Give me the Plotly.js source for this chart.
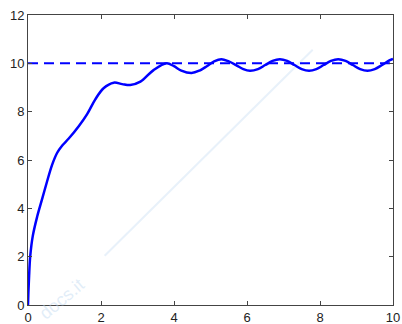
<!DOCTYPE html>
<html><head><meta charset="utf-8">
<script src="https://cdn.plot.ly/plotly-3.0.1.min.js"></script>
<style>html,body{margin:0;padding:0;background:#fff;}#chart{width:402px;height:324px;}</style>
</head><body><div id="chart"></div>
<script>
var timeX = [0, 0.01, 0.03, 0.06, 0.13, 0.25, 0.38, 0.52, 0.66, 0.8, 0.95, 1.11, 1.39, 1.62, 1.84, 2.07, 2.35, 2.58, 2.8, 3.08, 3.44, 3.8, 4.0, 4.2, 4.48, 4.7, 4.9, 5.1, 5.3, 5.5, 5.7, 5.9, 6.08, 6.3, 6.5, 6.7, 6.9, 7.1, 7.3, 7.5, 7.7, 7.9, 8.1, 8.3, 8.5, 8.7, 8.9, 9.1, 9.3, 9.5, 9.7, 9.9, 10];
var responseY = [0, 0.5, 1.2, 2.0, 2.85, 3.65, 4.35, 5.1, 5.8, 6.3, 6.62, 6.88, 7.4, 7.9, 8.5, 8.97, 9.2, 9.14, 9.1, 9.24, 9.72, 10.0, 9.88, 9.7, 9.6, 9.7, 9.88, 10.08, 10.17, 10.08, 9.93, 9.76, 9.69, 9.76, 9.93, 10.1, 10.17, 10.1, 9.93, 9.76, 9.69, 9.76, 9.93, 10.1, 10.17, 10.1, 9.93, 9.76, 9.69, 9.76, 9.93, 10.12, 10.18];
var refX = [0, 10];
var refY = [10, 10];
var xTicks = [0, 2, 4, 6, 8, 10];
var yTicks = [0, 2, 4, 6, 8, 10, 12];

var traces = [
  {x: refX, y: refY, mode: 'lines', line: {color: '#0000ff', width: 2, dash: '10px,6px'}, hoverinfo: 'skip'},
  {x: timeX, y: responseY, mode: 'lines', line: {color: '#0000ff', width: 2.5, shape: 'spline', smoothing: 1}}
];
var axisCommon = {
  showline: true, mirror: 'ticks', linecolor: '#444', linewidth: 1,
  ticks: 'inside', ticklen: 4, tickcolor: '#444', showgrid: false, zeroline: false,
  tickfont: {family: 'Liberation Sans, Arial, sans-serif', size: 13, color: '#222'}
};
var layout = {
  width: 402, height: 324,
  margin: {l: 28, r: 9, t: 15, b: 19, pad: 0},
  paper_bgcolor: '#fff', plot_bgcolor: '#fff',
  showlegend: false,
  xaxis: Object.assign({}, axisCommon, {range: [0, 10], tickvals: xTicks, ticktext: xTicks.map(String)}),
  yaxis: Object.assign({}, axisCommon, {range: [0, 12], tickvals: yTicks, ticktext: yTicks.map(String)}),
  shapes: [
    {type: 'line', xref: 'paper', yref: 'paper', x0: 0.21, y0: 0.17, x1: 0.78, y1: 0.88, line: {color: 'rgba(190,215,240,0.35)', width: 2}, layer: 'below'}
  ],
  annotations: [
    {xref: 'paper', yref: 'paper', x: 0.093, y: 0.02, xanchor: 'center', yanchor: 'middle', text: 'docs.it', showarrow: false, textangle: -40, font: {family: 'Liberation Sans, Arial, sans-serif', size: 18, color: 'rgba(190,215,240,0.45)'}}
  ]
};
Plotly.newPlot('chart', traces, layout, {staticPlot: true, displayModeBar: false});
</script></body></html>
